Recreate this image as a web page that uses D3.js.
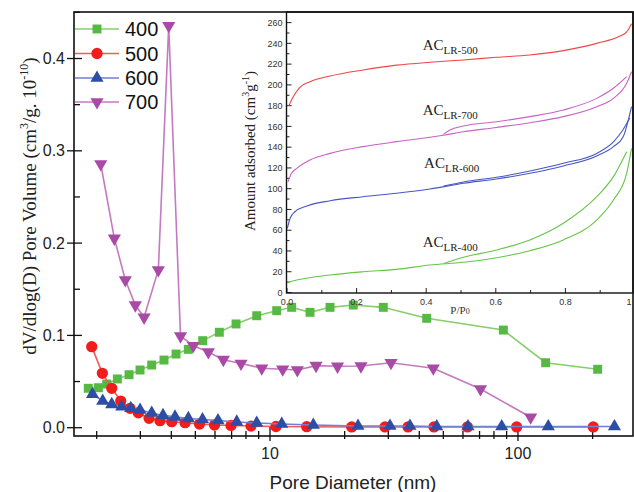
<!DOCTYPE html>
<html><head><meta charset="utf-8">
<script src="https://cdn.jsdelivr.net/npm/d3@7/dist/d3.min.js"></script>
<style>body{margin:0;background:#fff}svg{display:block}</style>
</head><body>
<svg id="c" width="634" height="492"></svg>
<script>
// ---------- Main chart data (pore size distribution) ----------
const seriesNames = ["400","500","600","700"];
const d400 = [1.850,2.031,2.195,2.423,2.701,2.991,3.334,3.737,4.178,4.684,5.353,6.246,7.294,8.839,10.64,12.23,14.50,17.46,21.67,28.63,42.85,87.3,129.3,209.6];
const v400 = [0.0427,0.0433,0.0473,0.0528,0.0574,0.0625,0.0679,0.0733,0.0798,0.0849,0.0943,0.1034,0.1124,0.1213,0.1268,0.1304,0.1250,0.1304,0.1329,0.1304,0.1185,0.1058,0.0704,0.0633];
const d500 = [1.910,2.108,2.300,2.500,2.726,2.944,3.252,3.601,4.014,4.543,5.196,5.972,6.962,8.384,10.57,14.06,21.35,29.09,36.02,45.85,62.57,98.8,201.2];
const v500 = [0.0878,0.0589,0.0427,0.0289,0.0210,0.0162,0.0101,0.0076,0.0065,0.0054,0.0040,0.0029,0.0024,0.0018,0.0013,0.0011,0.0008,0.0008,0.0008,0.0008,0.0008,0.0008,0.0008];
const d600 = [1.924,2.115,2.300,2.523,2.744,2.991,3.334,3.702,4.139,4.684,5.343,6.170,7.341,8.839,11.15,14.95,22.64,30.47,36.68,47.02,62.86,85.98,132.5,245.0];
const v600 = [0.0362,0.0289,0.0253,0.0227,0.0210,0.0192,0.0159,0.0133,0.0117,0.0100,0.0089,0.0078,0.0062,0.0051,0.0040,0.0029,0.0018,0.0018,0.0018,0.0013,0.0013,0.0013,0.0013,0.0013];
const d700 = [2.077,2.356,2.609,2.863,3.105,3.545,3.904,4.356,4.906,5.640,6.483,7.64,9.26,11.25,12.89,15.33,18.72,23.27,30.75,45.55,70.6,112.5];
const v700 = [0.2857,0.2052,0.1600,0.1329,0.1196,0.1709,0.4355,0.0993,0.0888,0.0820,0.0737,0.0696,0.0644,0.0633,0.0625,0.0672,0.0665,0.0668,0.0704,0.0644,0.0419,0.0113];
const yTicks = [0.0,0.1,0.2,0.3,0.4];
const xTicks = [10,100];

// ---------- Inset data (N2 isotherms) ----------
const p500 = [0.005,0.018,0.037,0.066,0.124,0.219,0.315,0.411,0.507,0.602,0.698,0.794,0.890,0.957,0.976,0.990];
const a500 = [179.7,188.6,197.7,203,208.6,214.4,219,221.8,224,226.6,228.8,233,240,247,251,259];
const p700ads = [0.003,0.013,0.028,0.066,0.124,0.219,0.315,0.411,0.449,0.507,0.602,0.698,0.794,0.890,0.938,0.976,0.990];
const a700ads = [106.7,114.8,119.6,127.6,134,140.5,145.3,149.5,151.5,154.9,159,163.6,169.4,179,187,201.5,212.7];
const p700des = [0.976,0.938,0.890,0.794,0.698,0.602,0.507,0.468,0.449];
const a700des = [207.9,196.7,187,175.8,169.4,164.5,160.4,156.5,152.3];
const p600ads = [0.001,0.009,0.023,0.057,0.124,0.219,0.315,0.411,0.507,0.602,0.698,0.794,0.890,0.938,0.966,0.990];
const a600ads = [61.8,71.5,77.8,83.3,88.4,92.3,95.6,99.7,105.2,109.3,114.8,121.9,131.5,140.5,150,179];
const p600des = [0.985,0.966,0.938,0.890,0.794,0.698,0.602,0.507,0.45];
const a600des = [168,157,145,134,124.5,117,111,106.5,102.5];
const p400ads = [0.0,0.028,0.124,0.219,0.315,0.411,0.507,0.602,0.698,0.794,0.890,0.938,0.976,0.990];
const a400ads = [9.5,12,16.9,20,22.3,26.5,29.1,33.5,40.3,50.6,69.8,89.1,114.8,138.9];
const p400des = [0.976,0.938,0.890,0.794,0.698,0.602,0.507,0.45];
const a400des = [135.6,111.6,92.3,66.7,50.6,41,33.9,28];
const insetYTicks = [0,20,40,60,80,100,120,140,160,180,200,220,240,260];
const insetXTicks = [0,0.2,0.4,0.6,0.8,1.0];
const annotations = [
  {main:"AC", sub:"LR-500", p:0.39, a:234},
  {main:"AC", sub:"LR-700", p:0.39, a:171},
  {main:"AC", sub:"LR-600", p:0.394, a:119.5},
  {main:"AC", sub:"LR-400", p:0.39, a:44}
];

// ---------- Drawing ----------
const svg = d3.select("#c");
const L=74, R=633, T=12, B=436;
const x = d3.scaleLog().domain([1.62,291]).range([L,R]);
const y = d3.scaleLinear().domain([-0.009,0.4504]).range([B,T]);

const markerColor = {"400":"#55b943","500":"#f31c1c","600":"#2d4ea5","700":"#a94aa6"};
const lineColor = {"400":"#86cf6a","500":"#f45a5a","600":"#7180d0","700":"#c57ac0"};
const symType = {"400":d3.symbolSquare,"500":d3.symbolCircle,"600":d3.symbolTriangle,"700":d3.symbolTriangle};
const symSize = {"400":80,"500":100,"600":75,"700":75};
const rot = {"400":0,"500":0,"600":0,"700":180};
const data = {"400":[d400,v400],"500":[d500,v500],"600":[d600,v600],"700":[d700,v700]};
const sans = "'Liberation Sans', Arial, sans-serif";
const serif = "'Liberation Serif', 'Times New Roman', serif";

// axes ticks
const gAx = svg.append("g");
d3.range(0,0.451,0.05).forEach(v=>{
  const yy=y(v); const major = Math.abs(v*10-Math.round(v*10))<1e-6;
  gAx.append("line").attr("x1",major?L-7:L).attr("x2",L+(major?8:6)).attr("y1",yy).attr("y2",yy)
    .attr("stroke","#111").attr("stroke-width",1.3);
});
yTicks.forEach(v=>{
  gAx.append("text").attr("x",L-9).attr("y",y(v)).attr("dy","0.35em").attr("text-anchor","end")
   .attr("font-family",sans).attr("font-size",16).attr("fill","#222").text(v.toFixed(1));
});
const minors=[];
[1,10,100].forEach(dec=>{for(let k=2;k<=9;k++){const t=dec*k; if(t>=1.62&&t<=291) minors.push(t);}});
minors.forEach(t=>{
  gAx.append("line").attr("x1",x(t)).attr("x2",x(t)).attr("y1",B-5).attr("y2",B+3)
    .attr("stroke","#111").attr("stroke-width",1.3);
});
xTicks.forEach(t=>{
  gAx.append("line").attr("x1",x(t)).attr("x2",x(t)).attr("y1",B-9).attr("y2",B+5)
    .attr("stroke","#111").attr("stroke-width",1.3);
  gAx.append("text").attr("x",x(t)).attr("y",453).attr("dy","0.35em").attr("text-anchor","middle")
   .attr("font-family",sans).attr("font-size",16).attr("fill","#222").text(t);
});

// axis titles
svg.append("text").attr("x",353).attr("y",489).attr("text-anchor","middle")
  .attr("font-family",sans).attr("font-size",19).attr("fill","#222").text("Pore Diameter (nm)");
const yt = svg.append("text").attr("transform","translate(36,206) rotate(-90)").attr("text-anchor","middle")
  .attr("font-family",serif).attr("font-size",19).attr("fill","#222");
yt.append("tspan").text("dV/dlog(D) Pore Volume (cm");
yt.append("tspan").attr("dy",-8).attr("font-size",12).text("3");
yt.append("tspan").attr("dy",8).text("/g. 10");
yt.append("tspan").attr("dy",-8).attr("font-size",12).text("-10");
yt.append("tspan").attr("dy",8).text(")");

// series
const line = d3.line().x(d=>x(d[0])).y(d=>y(d[1]));
seriesNames.forEach(s=>{
  const pts = data[s][0].map((d,i)=>[d,data[s][1][i]]);
  svg.append("path").datum(pts).attr("d",line).attr("fill","none")
    .attr("stroke",lineColor[s]).attr("stroke-width",1.6);
  svg.append("g").selectAll("path").data(pts).join("path")
    .attr("d",d3.symbol().type(symType[s]).size(symSize[s]))
    .attr("transform",d=>`translate(${x(d[0])},${y(d[1])}) rotate(${rot[s]})`)
    .attr("fill",markerColor[s]);
});

// legend
const legY = [29,53.5,78,102];
seriesNames.forEach((s,i)=>{
  svg.append("line").attr("x1",75).attr("x2",119).attr("y1",legY[i]).attr("y2",legY[i])
    .attr("stroke",lineColor[s]).attr("stroke-width",1.6);
  svg.append("path").attr("d",d3.symbol().type(symType[s]).size(symSize[s])())
    .attr("transform",`translate(97,${legY[i]}) rotate(${rot[s]})`).attr("fill",markerColor[s]);
  svg.append("text").attr("x",125).attr("y",legY[i]).attr("dy","0.35em")
    .attr("font-family",sans).attr("font-size",20).attr("fill","#111").text(s);
});

// ---------- Inset ----------
const IL=286.5, IR=633, IT=12, IB=293;
const ix = d3.scaleLinear().domain([0,1]).range([287,635]);
const iy = d3.scaleLinear().domain([0,260]).range([292.5,22.6]);
const gi = svg.append("g");
d3.range(0,261,10).forEach(v=>{
  const major = v%20===0;
  gi.append("line").attr("x1",IL).attr("x2",IL+(major?5:3)).attr("y1",iy(v)).attr("y2",iy(v))
    .attr("stroke","#222").attr("stroke-width",1);
});
insetYTicks.forEach(v=>{
  gi.append("text").attr("x",IL-4).attr("y",iy(v)).attr("dy","0.35em").attr("text-anchor","end")
    .attr("font-family",sans).attr("font-size",9).attr("fill","#333").text(v);
});
d3.range(0,1.001,0.1).forEach(v=>{
  const major = Math.round(v*10)%2===0;
  gi.append("line").attr("x1",ix(v)).attr("x2",ix(v)).attr("y1",IB).attr("y2",IB-(major?5:3))
    .attr("stroke","#222").attr("stroke-width",1);
});
insetXTicks.forEach(v=>{
  gi.append("text").attr("x",v===1?629:ix(v)).attr("y",302).attr("dy","0.35em").attr("text-anchor","middle")
    .attr("font-family",sans).attr("font-size",9).attr("fill","#333").text(v===1?"1":v.toFixed(1));
});
const pp = gi.append("text").attr("x",460).attr("y",314).attr("text-anchor","middle")
  .attr("font-family",serif).attr("font-size",11).attr("fill","#333");
pp.append("tspan").text("P/P");
pp.append("tspan").attr("font-size",8).text("0");
const iyt = gi.append("text").attr("transform","translate(255,151) rotate(-90)").attr("text-anchor","middle")
  .attr("font-family",serif).attr("font-size",15).attr("fill","#222");
iyt.append("tspan").text("Amount adsorbed (cm");
iyt.append("tspan").attr("dy",-6).attr("font-size",10).text("3");
iyt.append("tspan").attr("dy",6).text("g");
iyt.append("tspan").attr("dy",-6).attr("font-size",10).text("-1");
iyt.append("tspan").attr("dy",6).text(")");

const iline = d3.line().x(d=>ix(d[0])).y(d=>iy(d[1])).curve(d3.curveMonotoneX);
const iso = [
  [p500,a500,"#f04545"],
  [p700ads,a700ads,"#c862c4"],[p700des,a700des,"#c862c4"],
  [p600ads,a600ads,"#4656c4"],[p600des,a600des,"#4656c4"],
  [p400ads,a400ads,"#66c449"],[p400des,a400des,"#66c449"]
];
iso.forEach(([p,a,c])=>{
  const pts = p.map((v,i)=>[v,a[i]]).sort((u,w)=>u[0]-w[0]);
  gi.append("path").datum(pts).attr("d",iline).attr("fill","none").attr("stroke",c).attr("stroke-width",1.1);
});
annotations.forEach(an=>{
  const t = gi.append("text").attr("x",ix(an.p)).attr("y",iy(an.a))
    .attr("font-family",serif).attr("font-size",15).attr("fill","#222");
  t.append("tspan").text(an.main);
  t.append("tspan").attr("dy",4).attr("font-size",11).text(an.sub);
});
gi.append("rect").attr("x",IL).attr("y",IT).attr("width",IR-IL).attr("height",IB-IT)
  .attr("fill","none").attr("stroke","#111").attr("stroke-width",1.4);

// main frame
svg.append("rect").attr("x",L).attr("y",T).attr("width",R-L).attr("height",B-T)
  .attr("fill","none").attr("stroke","#111").attr("stroke-width",1.6);
</script>
</body></html>
